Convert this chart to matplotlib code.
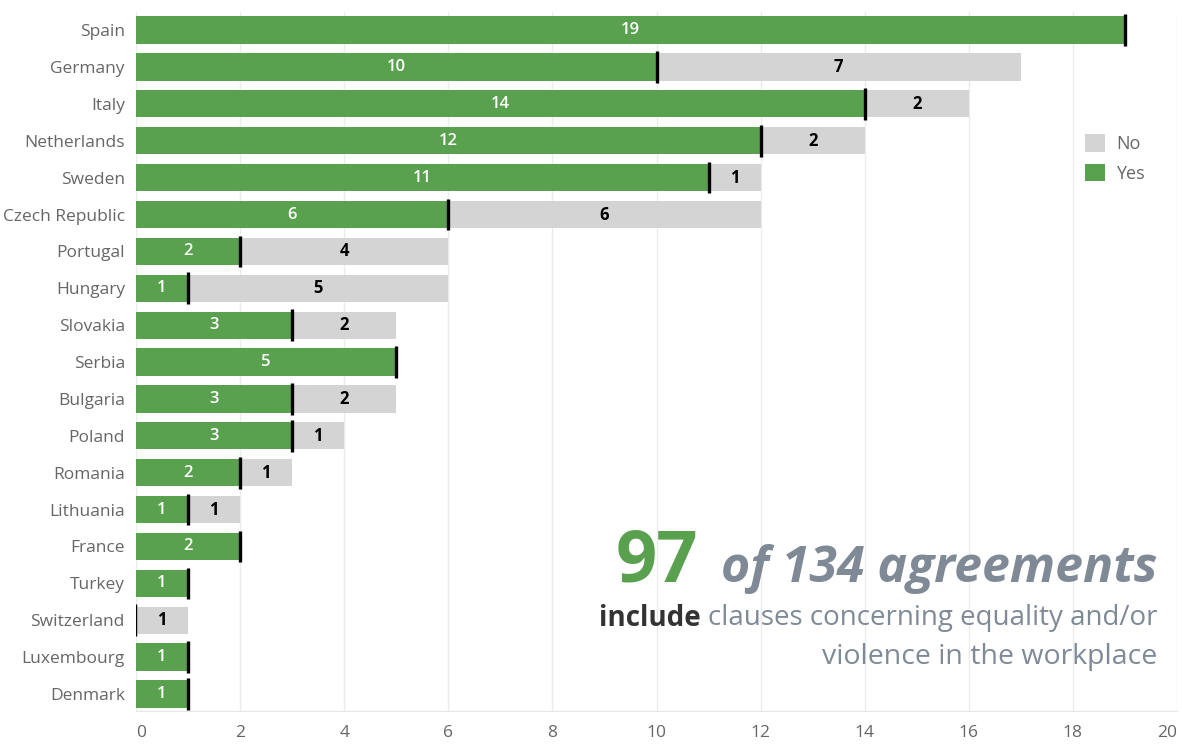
import matplotlib
matplotlib.use("Agg")
import matplotlib.pyplot as plt
from matplotlib.patches import Patch

countries = ["Spain", "Germany", "Italy", "Netherlands", "Sweden", "Czech Republic",
             "Portugal", "Hungary", "Slovakia", "Serbia", "Bulgaria", "Poland",
             "Romania", "Lithuania", "France", "Turkey", "Switzerland",
             "Luxembourg", "Denmark"]
yes = [19, 10, 14, 12, 11, 6, 2, 1, 3, 5, 3, 3, 2, 1, 2, 1, 0, 1, 1]
no = [0, 7, 2, 2, 1, 6, 4, 5, 2, 0, 2, 1, 1, 1, 0, 0, 1, 0, 0]
x_ticks = [0, 2, 4, 6, 8, 10, 12, 14, 16, 18, 20]

GREEN = "#59a14f"
GREY = "#d4d4d4"
TEXT = "#666666"
NOTE = "#7f8a96"

plt.rcParams["font.family"] = ["Open Sans", "DejaVu Sans"]

W, H = 1182, 745
fig = plt.figure(figsize=(W / 100, H / 100), dpi=100)
ax = fig.add_axes([136 / W, 1 - 711 / H, (1177 - 136) / W, (711 - 12) / H])

ypos = list(range(len(countries)))
bh = 0.74
ax.barh(ypos, yes, height=bh, color=GREEN, zorder=2)
ax.barh(ypos, no, left=yes, height=bh, color=GREY, zorder=2)

for y, a, b in zip(ypos, yes, no):
    # end-of-yes marker
    ax.plot([a, a], [y - 0.43, y + 0.43], color="black",
            lw=2.4 if a > 0 else 1.0, solid_capstyle="butt", zorder=3)
    if a > 0:
        ax.text(a / 2, y, str(a), ha="center", va="center", color="white",
                fontsize=12, fontweight="semibold", zorder=4)
    if b > 0:
        ax.text(a + b / 2, y, str(b), ha="center", va="center", color="black",
                fontsize=12, fontweight="bold", zorder=4)

ax.set_xlim(0, 20)
ax.set_ylim(len(countries) - 0.54, -0.49)
ax.set_xticks(x_ticks)
ax.set_yticks(ypos)
ax.set_yticklabels(countries)
ax.tick_params(axis="both", length=0, labelcolor=TEXT, labelsize=12.5)
ax.tick_params(axis="y", pad=8)
ax.tick_params(axis="x", pad=10)
xlabels = ax.get_xticklabels()
xlabels[0].set_ha("left")
xlabels[-1].set_ha("right")
ax.grid(axis="x", color="#ececec", lw=1, zorder=0)
for s in ["top", "right", "left"]:
    ax.spines[s].set_visible(False)
ax.spines["bottom"].set_color("#e6e6e6")

handles = [Patch(facecolor=GREY, edgecolor="none", label="No"),
           Patch(facecolor=GREEN, edgecolor="none", label="Yes")]
ax.legend(handles=handles, loc="upper left", bbox_to_anchor=(0.912, 0.825),
          frameon=False, fontsize=13, labelcolor=TEXT, handlelength=1.1,
          handleheight=1.1, handletextpad=0.6, labelspacing=0.6,
          borderaxespad=0, borderpad=0)

# headline note
fig.canvas.draw()
renderer = fig.canvas.get_renderer()
xr = 1157 / W
t1 = fig.text(xr, 1 - 582 / H, "of 134 agreements", ha="right", va="baseline",
              color=NOTE, fontsize=36, fontweight="bold", style="italic")
bb = t1.get_window_extent(renderer)
fig.text((bb.x0 - 22) / W, 1 - 582 / H, "97", ha="right", va="baseline",
         color=GREEN, fontsize=52, fontweight="bold")

t2 = fig.text(xr, 1 - 618 / H, "clauses concerning equality and/or", ha="right",
              va="center", color=NOTE, fontsize=20)
bb2 = t2.get_window_extent(renderer)
fig.text((bb2.x0 - 7) / W, 1 - 618 / H, "include", ha="right", va="center",
         color="#333333", fontsize=20, fontweight="bold")
fig.text(xr, 1 - 657 / H, "violence in the workplace", ha="right", va="center",
         color=NOTE, fontsize=20.5)

fig.savefig("out.png", dpi=100)
